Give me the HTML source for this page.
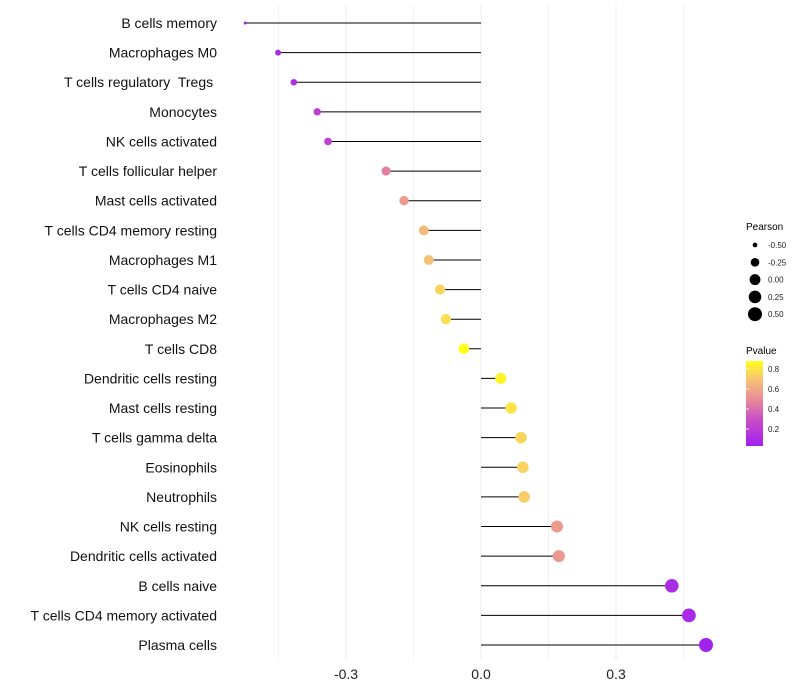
<!DOCTYPE html>
<html><head><meta charset="utf-8"><style>
body{margin:0;background:#fff;}
svg{display:block;font-family:"Liberation Sans",sans-serif;}
text{white-space:pre;}
</style></head><body>
<svg id="chart" width="800" height="700">
<defs><linearGradient id="pg" x1="0" y1="1" x2="0" y2="0">
<stop offset="0" stop-color="#A020F0"/><stop offset="0.3" stop-color="#C84CC8"/><stop offset="0.55" stop-color="#E88C96"/><stop offset="0.8" stop-color="#F8C870"/><stop offset="1" stop-color="#FFFF1A"/></linearGradient></defs>
<g id="grid"></g>
<g id="marks"></g>
<g id="labels"></g>
<g id="xt"></g>
<g id="lp">
<text x="746" y="230" font-size="10" fill="#000">Pearson</text>
</g>
<g id="lpv">
<text x="746" y="354" font-size="10" fill="#000">Pvalue</text>
<rect x="746" y="361" width="17" height="85" fill="url(#pg)"/>
</g>
</svg>
<script>
const categories=["B cells memory","Macrophages M0","T cells regulatory  Tregs ","Monocytes","NK cells activated","T cells follicular helper","Mast cells activated","T cells CD4 memory resting","Macrophages M1","T cells CD4 naive","Macrophages M2","T cells CD8","Dendritic cells resting","Mast cells resting","T cells gamma delta","Eosinophils","Neutrophils","NK cells resting","Dendritic cells activated","B cells naive","T cells CD4 memory activated","Plasma cells"];
const pearson=[-0.524,-0.451,-0.416,-0.364,-0.340,-0.211,-0.171,-0.127,-0.116,-0.091,-0.078,-0.038,0.044,0.067,0.089,0.093,0.096,0.169,0.173,0.424,0.462,0.500];
const pvalue=[0.05,0.1,0.12,0.2,0.22,0.45,0.55,0.66,0.68,0.75,0.78,0.88,0.85,0.8,0.75,0.74,0.72,0.55,0.54,0.1,0.08,0.05];
const xTicks=[-0.3,0,0.3];
const xTickLabels=["-0.3","0.0","0.3"];
const xMinor=[-0.45,-0.15,0.15,0.45];
const pearsonLegend=[-0.5,-0.25,0,0.25,0.5];
const pearsonLegendLabels=["-0.50","-0.25","0.00","0.25","0.50"];
const pvLegend=[0.2,0.4,0.6,0.8];
const NS="http://www.w3.org/2000/svg";
const X=v=>481+v*450;
const Y=i=>23+i*(645-23)/(categories.length-1);
const pMin=Math.min(...pearson),pMax=Math.max(...pearson);
const R=v=>1.5+5.5*Math.sqrt(Math.max(0,Math.min(1,(v-pMin)/(pMax-pMin))));
const stops=[[0,[160,32,240]],[0.3,[200,76,200]],[0.55,[232,140,150]],[0.8,[248,200,112]],[1,[255,255,26]]];
function col(p){let t=Math.max(0,Math.min(1,(p-0.03)/0.85));for(let k=1;k<stops.length;k++){if(t<=stops[k][0]){const a=stops[k-1],b=stops[k];const f=(t-a[0])/(b[0]-a[0]);const c=a[1].map((x,j)=>Math.round(x+(b[1][j]-x)*f));return`rgb(${c})`;}}return"rgb(255,255,26)";}
function mk(tag,attrs,parent){const e=document.createElementNS(NS,tag);for(const k in attrs)e.setAttribute(k,attrs[k]);parent.appendChild(e);return e;}
const grid=document.getElementById('grid'),marks=document.getElementById('marks'),labels=document.getElementById('labels'),xt=document.getElementById('xt');
xMinor.forEach(v=>{const l=mk('line',{x1:X(v),x2:X(v),y1:5,y2:660,stroke:'#f2f2f2','stroke-width':1},grid);

});
xTicks.forEach((v,i)=>{const l=mk('line',{x1:X(v),x2:X(v),y1:5,y2:660,stroke:'#ebebeb','stroke-width':1},grid);


const t=mk('text',{x:X(v),y:679,'font-size':14,'text-anchor':'middle',fill:'#222'},xt);t.textContent=xTickLabels[i];

});
categories.forEach((c,i)=>{const y=Y(i);
const s=mk('line',{x1:X(0),x2:X(pearson[i]),y1:y,y2:y,stroke:'#000','stroke-width':1},marks);


const d=mk('circle',{cx:X(pearson[i]),cy:y,r:R(pearson[i]),fill:col(pvalue[i])},marks);


const t=mk('text',{x:217,y:y+5,'font-size':14,'text-anchor':'end',fill:'#111'},labels);t.textContent=c;

});
const lp=document.getElementById('lp');
pearsonLegend.forEach((v,i)=>{const y=245+i*17.3;
const c=mk('circle',{cx:755,cy:y,r:R(v),fill:'#000'},lp);


const t=mk('text',{x:768,y:y+3,'font-size':8,fill:'#222'},lp);t.textContent=pearsonLegendLabels[i];

});
const lpv=document.getElementById('lpv');
pvLegend.forEach(v=>{const y=446-(v-0.03)/0.85*85;
const t=mk('text',{x:768,y:y+3,'font-size':8,fill:'#222'},lpv);t.textContent=v.toFixed(1);


const l=mk('line',{x1:746,x2:749,y1:y,y2:y,stroke:'#fff','stroke-width':0.8},lpv);

});
</script>
</body></html>
